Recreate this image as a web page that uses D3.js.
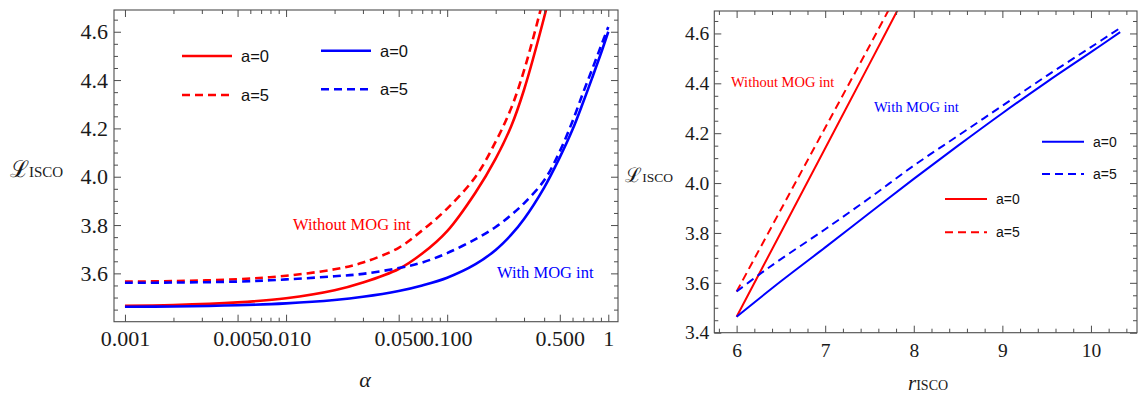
<!DOCTYPE html>
<html lang="en">
<head>
  <meta charset="UTF-8">
  <script src="https://cdn.jsdelivr.net/npm/d3@7"></script>
  <title>L_ISCO</title>
  <style>
    body { margin: 0; background: #fff; }
  </style>
</head>
<body>
  <script>
    // left panel: L_ISCO vs alpha (log axis)
    const alphaRed = [0.001, 0.002, 0.005, 0.01, 0.02, 0.03, 0.05, 0.07, 0.1, 0.15, 0.2, 0.25, 0.3, 0.4, 0.45]
    const redSolid = [3.466, 3.469, 3.480, 3.497, 3.530, 3.562, 3.618, 3.682, 3.775, 3.935, 4.075, 4.21, 4.36, 4.66, 4.80]
    const redDashed = [3.566, 3.568, 3.576, 3.590, 3.617, 3.645, 3.706, 3.778, 3.868, 4.000, 4.145, 4.285, 4.44, 4.75, 4.90]
    const alphaBlue = [0.001, 0.002, 0.005, 0.01, 0.02, 0.03, 0.05, 0.07, 0.1, 0.15, 0.2, 0.25, 0.3, 0.4, 0.5, 0.6, 0.7, 0.8, 0.9, 1.0]
    const blueSolid = [3.462, 3.463, 3.468, 3.476, 3.490, 3.503, 3.527, 3.550, 3.582, 3.638, 3.697, 3.760, 3.825, 3.955, 4.08, 4.195, 4.31, 4.415, 4.51, 4.60]
    const blueDashed = [3.561, 3.562, 3.566, 3.575, 3.588, 3.598, 3.622, 3.645, 3.684, 3.742, 3.792, 3.842, 3.890, 3.985, 4.105, 4.23, 4.35, 4.45, 4.54, 4.62]

    // right panel: L_ISCO vs r_ISCO
    const rRedSolid = [6.0, 6.5, 7.0, 7.5, 7.9]
    const LRedSolid = [3.464, 3.802, 4.14, 4.478, 4.75]
    const rRedDashed = [6.0, 6.5, 7.0, 7.5, 7.8]
    const LRedDashed = [3.565, 3.894, 4.222, 4.55, 4.75]
    const rBlueSolid = [6.0, 6.5, 7.0, 7.5, 8.0, 8.5, 9.0, 9.5, 10.0, 10.33]
    const LBlueSolid = [3.464, 3.606, 3.742, 3.88, 4.017, 4.15, 4.28, 4.405, 4.525, 4.605]
    const rBlueDashed = [6.0, 6.25, 6.5, 7.0, 7.5, 8.0, 8.5, 9.0, 9.5, 10.0, 10.33]
    const LBlueDashed = [3.565, 3.632, 3.695, 3.815, 3.94, 4.07, 4.19, 4.31, 4.43, 4.545, 4.622]

    // ticks
    const alphaTicks = [0.001, 0.005, 0.01, 0.05, 0.1, 0.5, 1]
    const alphaTickLabels = ['0.001', '0.005', '0.010', '0.050', '0.100', '0.500', '1']
    const leftYTicks = [3.6, 3.8, 4.0, 4.2, 4.4, 4.6]
    const rTicks = [6, 7, 8, 9, 10]
    const rightYTicks = [3.4, 3.6, 3.8, 4.0, 4.2, 4.4, 4.6]

    const RED = '#ff0000', BLUE = '#0000ff', FRAME = '#4d4d4d'
    const SERIF = '"Liberation Serif", "Times New Roman", serif'
    const SANS = '"Liberation Sans", Arial, sans-serif'

    const svg = d3.select('body').append('svg')
        .attr('width', 1139)
        .attr('height', 394)

    const zip = (xs, ys) => xs.map((x, i) => [x, ys[i]])

    function frame(g, x, y, xMajor, xMinor, yMajor, yMinor, fmtX, fmtY, fs, xPad, yPad) {
      const [x0, x1] = x.range()
      const [y0, y1] = y.range()
      const axes = [
        [d3.axisBottom(x).tickValues(xMajor).tickSize(-7).tickPadding(xPad).tickFormat(fmtX), `translate(0,${y0})`],
        [d3.axisBottom(x).tickValues(xMinor).tickSize(-4).tickFormat(''), `translate(0,${y0})`],
        [d3.axisTop(x).tickValues(xMajor).tickSize(-7).tickFormat(''), `translate(0,${y1})`],
        [d3.axisTop(x).tickValues(xMinor).tickSize(-4).tickFormat(''), `translate(0,${y1})`],
        [d3.axisLeft(y).tickValues(yMajor).tickSize(-7).tickPadding(yPad).tickFormat(fmtY), `translate(${x0},0)`],
        [d3.axisLeft(y).tickValues(yMinor).tickSize(-4).tickFormat(''), `translate(${x0},0)`],
        [d3.axisRight(y).tickValues(yMajor).tickSize(-7).tickFormat(''), `translate(${x1},0)`],
        [d3.axisRight(y).tickValues(yMinor).tickSize(-4).tickFormat(''), `translate(${x1},0)`]
      ]
      axes.forEach(([ax, tr]) => {
        const a = g.append('g').attr('transform', tr).call(ax)
        a.select('.domain').remove()
        a.selectAll('line').attr('stroke', FRAME)
        a.selectAll('text')
          .style('font-family', SERIF)
          .style('font-size', fs + 'px')
          .attr('fill', '#1a1a1a')
      })
      g.append('rect')
          .attr('x', x0).attr('y', y1)
          .attr('width', x1 - x0).attr('height', y0 - y1)
          .attr('fill', 'none')
          .attr('stroke', FRAME)
          .attr('stroke-width', 1.1)
    }

    function curves(g, id, x, y, series, width) {
      const [x0, x1] = x.range()
      const [y0, y1] = y.range()
      svg.append('clipPath').attr('id', id)
        .append('rect').attr('x', x0).attr('y', y1).attr('width', x1 - x0).attr('height', y0 - y1)
      const line = d3.line()
          .x(d => x(d[0]))
          .y(d => y(d[1]))
          .curve(d3.curveCatmullRom.alpha(0.5))
      series.forEach(s => {
        g.append('path')
            .datum(s.data)
            .attr('clip-path', `url(#${id})`)
            .attr('fill', 'none')
            .attr('stroke', s.color)
            .attr('stroke-width', width)
            .attr('stroke-dasharray', s.dash ? '8,5' : null)
            .attr('d', line)
      })
    }

    function legend(g, items, len, fs, width) {
      items.forEach(it => {
        g.append('line')
            .attr('x1', it.x).attr('x2', it.x + len)
            .attr('y1', it.y).attr('y2', it.y)
            .attr('stroke', it.color)
            .attr('stroke-width', width)
            .attr('stroke-dasharray', it.dash ? '8,5' : null)
        g.append('text')
            .attr('x', it.x + len + 9)
            .attr('y', it.y)
            .attr('dy', '0.36em')
            .style('font-family', SANS)
            .style('font-size', fs + 'px')
            .attr('fill', '#111')
            .text(it.label)
      })
    }

    function label(g, x, y, fs, color, txt) {
      return g.append('text').attr('x', x).attr('y', y)
          .style('font-family', SERIF).style('font-size', fs + 'px')
          .attr('fill', color).text(txt)
    }

    // ---------- left panel ----------
    const xL = d3.scaleLog().domain([0.000855, 1.149]).range([114, 618])
    const yL = d3.scaleLinear().domain([3.4, 4.69]).range([321.7, 10])

    const alphaMinor = []
    ;[0.001, 0.01, 0.1].forEach(dec => {
      for (let k = 2; k <= 9; k++) if (k !== 5) alphaMinor.push(k * dec)
    })
    const leftYMinor = d3.range(3.45, 4.68, 0.05).filter(v => Math.abs(v * 5 - Math.round(v * 5)) > 0.01)

    const gL = svg.append('g')
    curves(gL, 'clipL', xL, yL, [
      { data: zip(alphaRed, redDashed), color: RED, dash: true },
      { data: zip(alphaRed, redSolid), color: RED },
      { data: zip(alphaBlue, blueDashed), color: BLUE, dash: true },
      { data: zip(alphaBlue, blueSolid), color: BLUE }
    ], 2.6)
    frame(gL, xL, yL, alphaTicks, alphaMinor, leftYTicks, leftYMinor,
      (d, i) => alphaTickLabels[i], d3.format('.1f'), 22, 9, 6)

    legend(gL, [
      { x: 182, y: 56, color: RED, label: 'a=0' },
      { x: 182, y: 95, color: RED, dash: true, label: 'a=5' },
      { x: 321, y: 50.7, color: BLUE, label: 'a=0' },
      { x: 321, y: 89.3, color: BLUE, dash: true, label: 'a=5' }
    ], 50, 16.5, 2.6)

    label(gL, 293, 230, 16.5, RED, 'Without MOG int')
    label(gL, 497, 278.3, 16.5, BLUE, 'With MOG int')
    label(gL, 365, 387, 22, '#1a1a1a', 'α')
        .attr('text-anchor', 'middle').style('font-style', 'italic')

    const yTitleL = label(gL, 10, 177, 15, '#1a1a1a', null)
    yTitleL.append('tspan').style('font-size', '23px').style('font-family', '"DejaVu Serif", serif').text('ℒ')
    yTitleL.append('tspan').text('ISCO')

    // ---------- right panel ----------
    const xR = d3.scaleLinear().domain([5.748, 10.52]).range([714.3, 1137])
    const yR = d3.scaleLinear().domain([3.4, 4.69]).range([332.7, 11])

    const rMinor = d3.range(5.8, 10.5, 0.2).filter(v => Math.abs(v - Math.round(v)) > 0.01)
    const rightYMinor = d3.range(3.45, 4.68, 0.05).filter(v => Math.abs(v * 5 - Math.round(v * 5)) > 0.01)

    const gR = svg.append('g')
    curves(gR, 'clipR', xR, yR, [
      { data: zip(rRedDashed, LRedDashed), color: RED, dash: true },
      { data: zip(rRedSolid, LRedSolid), color: RED },
      { data: zip(rBlueDashed, LBlueDashed), color: BLUE, dash: true },
      { data: zip(rBlueSolid, LBlueSolid), color: BLUE }
    ], 2)
    frame(gR, xR, yR, rTicks, rMinor, rightYTicks, rightYMinor,
      d3.format('d'), d3.format('.1f'), 19.5, 10, 5)

    legend(gR, [
      { x: 1042, y: 141.7, color: BLUE, label: 'a=0' },
      { x: 1042, y: 174, color: BLUE, dash: true, label: 'a=5' },
      { x: 945, y: 199, color: RED, label: 'a=0' },
      { x: 945, y: 232.3, color: RED, dash: true, label: 'a=5' }
    ], 42, 14, 2)

    label(gR, 731, 86.7, 14.5, RED, 'Without MOG int')
    label(gR, 874, 112.3, 14.5, BLUE, 'With MOG int')

    const xTitleR = label(gR, 908, 390, 14, '#1a1a1a', null)
    xTitleR.append('tspan').style('font-size', '21px').style('font-style', 'italic').text('r')
    xTitleR.append('tspan').text('ISCO')

    const yTitleR = label(gR, 673, 182, 13.5, '#1a1a1a', null).attr('text-anchor', 'end')
    yTitleR.append('tspan').style('font-size', '20px').style('font-family', '"DejaVu Serif", serif').text('ℒ')
    yTitleR.append('tspan').text('ISCO')
  </script>
</body>
</html>
